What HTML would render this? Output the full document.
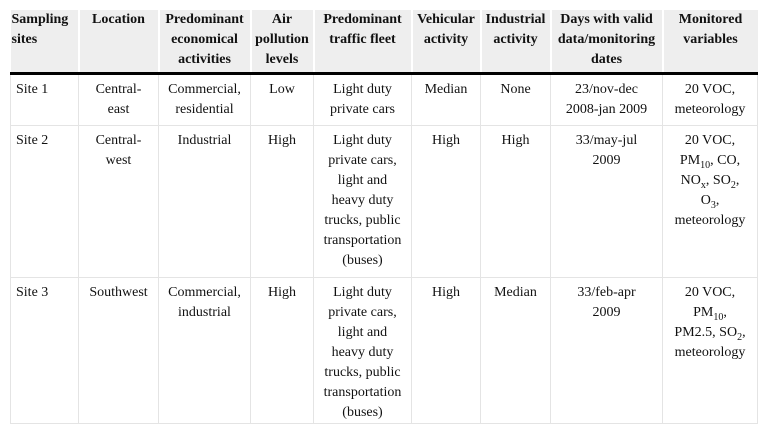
<!DOCTYPE html>
<html><head><meta charset="utf-8"><style>
html,body{margin:0;padding:0;background:#fff;width:767px;height:433px;overflow:hidden}
table{position:absolute;left:10px;top:10px;border-collapse:collapse;table-layout:fixed;width:747px;font-family:"Liberation Serif",serif;font-size:14px;line-height:20px;color:#111}
th{background:#eeeeee;font-weight:bold;vertical-align:top;padding:0 1px;text-align:center;border-bottom:3px solid #000;border-left:2px solid #fff}
th:first-child{text-align:left;border-left:none}
td{vertical-align:top;text-align:center;padding:5px 6px 0;border:1px solid #e4e4e4}
td:first-child{text-align:left;padding-left:5px}
sub{font-size:10px;line-height:0}
</style></head><body>
<table>
<colgroup><col style="width:68px"><col style="width:80px"><col style="width:92px"><col style="width:63px"><col style="width:98px"><col style="width:69px"><col style="width:70px"><col style="width:112px"><col style="width:95px"></colgroup>
<tr style="height:63px">
<th>Sampling sites</th>
<th>Location</th>
<th>Predominant economical activities</th>
<th>Air pollution levels</th>
<th>Predominant traffic fleet</th>
<th>Vehicular activity</th>
<th>Industrial activity</th>
<th>Days with valid data/monitoring dates</th>
<th>Monitored variables</th>
</tr>
<tr style="height:52px">
<td>Site 1</td><td>Central-<br>east</td><td>Commercial, residential</td><td>Low</td><td>Light duty private cars</td><td>Median</td><td>None</td><td>23/nov-dec 2008-jan 2009</td><td>20 VOC, meteorology</td>
</tr>
<tr style="height:152px">
<td>Site 2</td><td>Central-<br>west</td><td>Industrial</td><td>High</td><td>Light duty private cars, light and heavy duty trucks, public transportation (buses)</td><td>High</td><td>High</td><td>33/may-jul<br>2009</td><td>20 VOC,<br>PM<sub>10</sub>, CO,<br>NO<sub>x</sub>, SO<sub>2</sub>,<br>O<sub>3</sub>,<br>meteorology</td>
</tr>
<tr style="height:145px">
<td>Site 3</td><td>Southwest</td><td>Commercial, industrial</td><td>High</td><td>Light duty private cars, light and heavy duty trucks, public transportation (buses)</td><td>High</td><td>Median</td><td>33/feb-apr<br>2009</td><td>20 VOC,<br>PM<sub>10</sub>,<br>PM2.5, SO<sub>2</sub>,<br>meteorology</td>
</tr>
</table>
</body></html>
